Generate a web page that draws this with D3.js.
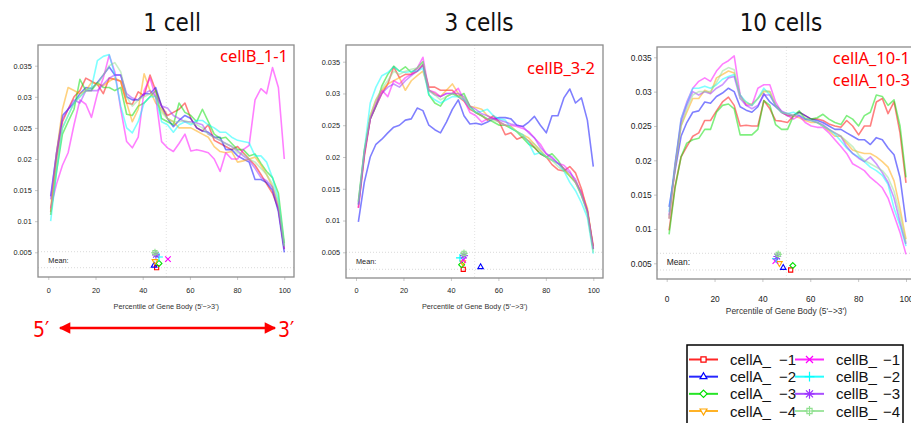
<!DOCTYPE html>
<html>
<head>
<meta charset="utf-8">
<script src="https://cdn.jsdelivr.net/npm/d3@7"></script>
<style>
body { margin: 0; background: #fff; }
svg { display: block; }
.tick text { font-family: "Liberation Sans", Arial, sans-serif; fill: #222; }
</style>
</head>
<body>
<svg id="chart" width="911" height="423"></svg>
<script>
// DATA ------------------------------
// x positions of the coverage points (percentile of gene body)
const percentile = [1,3.5,6,8.4,10.9,13.4,15.9,18.3,20.8,23.3,25.8,28.2,30.7,33.2,35.6,38.1,40.6,43.1,45.5,48,50.5,53,55.4,57.9,60.4,62.9,65.3,67.8,70.3,72.8,75.2,77.7,80.2,82.6,85.1,87.6,90.1,92.5,95,97.5,100];

// coverage values in units of 0.001
// 1 cell
const oneA1 = [11.5,20,26,28,30,31,33,32.5,32,30.5,33,32.8,32.5,29,28.8,30.8,30.2,33.5,31,28.5,27,27.5,28,29,26.5,25,24.5,25.5,23,22.5,22,21.5,22,21,20,19,17.5,16,14.5,12,5.5];
const oneA2 = [14,21,27,28,29,30.5,31.5,31.3,32.3,33.5,34.8,33.5,33.5,30,29.5,29.5,30.5,30.5,31.5,28.5,26.5,25.2,26.2,27,26.5,25,24.5,24.3,23.5,23.5,21.5,21.5,20.5,20,19.5,16.7,16.7,16.2,15,11.5,5];
const oneA3 = [11,18,24,26,28,32.8,31,31,32.3,31.5,31.5,31,31.5,27.2,27,28.5,29,30,31,26.5,26,25.5,29,27.5,27,26,28,26,24,23.3,23.5,22.5,21.5,21.5,20.5,20.8,19.3,18,17,14.5,6.5];
const oneA4 = [12,21,28,31.5,31,30.5,31,32.3,32,31.8,32.5,33,32.5,29,26,28,33.7,31,29,28,26.5,26,25,25,25,24.5,24,23.5,22,21.2,21,21.2,19.5,19.7,20,20.3,19,17.5,15.5,12.5,6];
const oneB1 = [12.1,16,19,21,25.5,29.5,28.8,26.7,30.5,33,36.7,34,28,22.8,21.8,23.5,31,33,30,22.8,21.8,21.2,22.5,24,21.3,21.5,21.3,21,20,18,21,20,20,21.5,22.2,29.5,31.3,30.5,34.7,31.5,20];
const oneB2 = [10,18,25,27,29,30,31,31.5,35.8,36.5,36.8,33.5,28.5,25,24.2,26,29,30,30,26,25.5,24.3,25.5,26,25.5,26.2,26.2,25.5,25,24.3,24.3,23.5,23,22.8,22.6,20.5,20.5,19.5,17,13.5,6];
const oneB3 = [13.5,21,26.5,28,29.5,29,31,31,31,32,33,33.5,33.5,30.5,29.8,29.5,30.5,31,30,28.5,28.2,27,26.5,26,26,25.8,25.5,24,23.5,23,22.5,22,21.3,20.5,19.8,18.5,17,16.5,15.5,12,5.5];
const oneB4 = [11,19,25,27,29,30,31,31.5,32,33.5,35,35.5,34,30,28.5,29.5,30,30.5,30,27.5,26.5,26,26,26.2,25.8,25.5,25,24,23.5,23,22.5,22,21,20.8,20,19.5,18.5,17.5,16,13,6];

// 3 cells
const threeA1 = [12,20,26,28,30,31.5,34.2,32.5,33,33,33.5,34.5,31,31,30.5,30.5,30.5,29.5,28.8,27.5,27,26.5,25.8,26.5,25.5,23.5,23.8,22.8,23.2,22.5,21.5,20.5,20,18.8,18,17.8,18.5,17.5,15,11.5,6];
const threeA2 = [9.8,16,20,22,22.8,23.8,24.7,25,25.8,26,27.7,27.3,25,24.3,23.8,25.5,27.5,29,26.5,25.2,25.3,25.1,25.5,26,26.2,26.2,26,25,24.8,25.5,26.4,25,23.8,26.5,26.5,29.3,30.7,28.5,29.3,25.8,18.5];
const threeA3 = [13,21,26,28,31.2,33,34.3,33.5,34.2,33.3,34,35,29.8,28.5,28,29.5,30,29.5,30,28,27,26.5,26,25.5,25,25,24.5,24,23,22,21.5,20.5,20,20.5,19.5,18,17,16,14,11.5,5.5];
const threeA4 = [12.5,20.5,26.5,29,30.5,31.5,32,32.5,30.5,32,32.8,33.5,30.5,30,29.5,30.5,31.5,30,29,28,27.8,27.5,26.5,26,25.5,25,24.8,24,23.5,23,22,21,20,19.5,19,18.2,17,16.2,14.5,12,5.5];
const threeB1 = [12,20.5,26,28.5,30.5,29.5,32,31.5,32.5,33,34,35.7,30.5,30.2,29.5,30,30,30.8,29,27,26.5,25.5,26,26.2,25.5,25,25,24.8,24.5,24,23,22,20.5,19.8,19,18.7,17.8,16,14.5,11.5,5.5];
const threeB2 = [12.5,21,28.5,31,32.8,33.3,34.2,33.5,33.3,33.5,33.5,34,29.8,29,28.5,29,29.5,29.5,29,27.8,27,27.2,27.5,26.5,26,25.8,24.5,24,23.5,22.2,20.4,20.7,20,19.5,19,17.8,16,14.7,12.8,10.5,4.8];
const threeB3 = [12.5,20.5,26,28,30,31,31.5,31,32,32.8,33.5,34.5,30.5,29.8,29.5,30,30,30,29.5,28,27.5,26.8,26.5,26,25.8,25.5,25.2,25,24.8,23.8,23,21.5,20.5,20,19,18.2,17.5,16.5,14,11.5,5.5];
const threeB4 = [13,21,26.5,29,30.8,32,33.5,33,33.5,33.8,34,35,30.5,29.8,29,29.5,30,29.5,29.5,27.8,27,26.5,26,25.8,25.5,25,24.8,24,23.2,22.5,22,21,20,19.5,18.5,17.8,17,16,14,11,5];

// 10 cells
const tenA1 = [9.8,16.2,20.5,22,23.5,24,25.8,25.8,27.2,28.5,29.2,28,25,25.1,25,25,28.7,27.5,25.8,25.7,25.5,26.5,27,26.5,26,26,25.8,25.3,25,24.8,25.8,25,23.7,25,25,28.5,29,26.8,28.5,24,16.7];
const tenA2 = [13.2,18.5,23.5,25.5,27,27.2,28.5,28.3,29.3,29.8,30.5,30,27.8,27.3,27,27.8,29.7,28.5,27.8,27,26.5,26.5,27,26.5,26,25.8,25.5,25,24.5,24.5,24,23.5,23,23,22.3,23.3,23,21.8,20.8,17.5,11];
const tenA3 = [9.2,16,20.5,22.5,23,23.2,24.5,24.5,27,28,28.2,27.5,23.7,23.7,23.7,24.5,28.7,28,25.2,24.5,24.5,26.5,27.2,26,26,26.2,26.7,26,25.5,25.2,26.5,26,25,26.5,27,29.5,29.3,28,28.8,25,17.5];
const tenA4 = [11.5,19,25,27,29,29,30.2,29.8,32,32.5,33,32.7,29.5,28.2,28.2,29,30,30,28,27,26.5,26.5,26.2,25.8,25.5,25.5,25,24.3,23.5,23.5,22.5,21.5,21.2,21,21,20.5,19.8,19,17,13,8.5];
const tenB1 = [11.5,19,26,28.5,30.5,31.5,32,31.5,33,34,34.5,35.2,29.5,28,28,30.5,31,31,28.5,27,26.5,26,26.5,25.5,25,24.8,24.8,24,23,22,21,19.5,19,18.5,17.5,16.8,16,14.5,12,9.5,6.3];
const tenB2 = [12.5,19.5,26,28.3,30.5,30.5,30.8,30.5,31,31.8,32.2,32.5,29.5,28.5,28,29,30.5,29.5,28,27,26.8,27,26.5,26,25.8,25.5,25,24.5,23.8,22.8,21.8,21,20.5,19.8,19,18.5,17.8,16.5,13,10.5,7.5];
const tenB3 = [12,19.5,25.5,28,30,29.5,30,29.7,30.5,31,32,32.2,29,28,27.5,28,29.5,29.5,28,27.2,26.8,26.5,26.5,26,25.8,25.5,25.2,24.5,24,23.5,22,21,20.3,19.8,20.5,19.5,18.2,16.8,14.5,11,7.8];
const tenB4 = [11.5,19,25,27.5,29.5,30,30,30,31.3,33,33.5,33.2,29,28.5,28,29,30.2,30,28,27,26.8,26.5,26.8,26.2,25.8,25.5,25,24.5,24,23.5,22.8,22,20.8,20,19.5,19,18.5,17.5,15.5,12,8];

// mean percentile of each sample (marker x)
const oneMean = [45.9,44.8,46.9,45.2,50.7,46.9,45.6,45.2];
const threeMean = [45.2,52.5,44.5,45.0,45.2,43.8,45.5,45.5];
const tenMean = [51.8,48.7,52.7,47.1,45.4,45.7,46.2,46.6];

const sampleGroups = ["cellA_","cellA_","cellA_","cellA_","cellB_","cellB_","cellB_","cellB_"];
const sampleSuffix = ["\u22121","\u22122","\u22123","\u22124","\u22121","\u22122","\u22123","\u22124"];
const sampleColors = ["#ff0000","#0000ff","#00e000","#ffa500","#ff00ff","#00ffff","#9b30ff","#90e090"];
const sampleShapes = ["square","triangle","diamond","triangleDown","times","plus","asterisk","squarePlus"];

const panelTitles = ["1 cell","3 cells","10 cells"];
const panelTags = [["cellB_1-1"],["cellB_3-2"],["cellA_10-1","cellA_10-3"]];
const xTicks = [0,20,40,60,80,100];
const yTicks = [5,10,15,20,25,30,35];
const yTickLabels = ["0.005","0.01","0.015","0.02","0.025","0.03","0.035"];
const xTitle = "Percentile of Gene Body (5'\u2212>3')";

const panelSeries = [
    [oneA1,oneA2,oneA3,oneA4,oneB1,oneB2,oneB3,oneB4],
    [threeA1,threeA2,threeA3,threeA4,threeB1,threeB2,threeB3,threeB4],
    [tenA1,tenA2,tenA3,tenA4,tenB1,tenB2,tenB3,tenB4]
];
const panelMeans = [oneMean, threeMean, tenMean];

// LAYOUT ----------------------------
const layout = [
    {left: 38, right: 294, top: 45, bottom: 277, x0: 48.3, x100: 284.3, y5: 252.3, y35: 65.7,
     meanTop: 251.7, meanBot: 267.7, titleX: 172, font: 7.3, xPad: 7.5, yPad: 3.3, axisTitleY: 309, tagX: 288, tagY: 62},
    {left: 346, right: 603, top: 45, bottom: 278, x0: 356, x100: 593.3, y5: 252.3, y35: 61.7,
     meanTop: 252.3, meanBot: 269.3, titleX: 479, font: 7.3, xPad: 6.5, yPad: 3, axisTitleY: 309, tagX: 595, tagY: 74},
    {left: 657, right: 917, top: 47, bottom: 279, x0: 666.7, x100: 906, y5: 263.3, y35: 57.3,
     meanTop: 253.3, meanBot: 270, titleX: 781, font: 8.4, xPad: 14, yPad: 2.3, axisTitleY: 314, tagX: 910, tagY: 64}
];

const svg = d3.select("#chart");

function symbolPath(kind, size) {
    const sym = d3.symbol().size(size);
    switch (kind) {
        case "square": return sym.type(d3.symbolSquare2)();
        case "triangle": return sym.type(d3.symbolTriangle2)();
        case "diamond": return sym.type(d3.symbolDiamond2)();
        case "triangleDown": return sym.type(d3.symbolTriangle2)();
        case "times": return sym.type(d3.symbolTimes)();
        case "plus": return sym.type(d3.symbolPlus)();
        case "asterisk": return sym.type(d3.symbolPlus)() + sym.type(d3.symbolTimes)();
        case "squarePlus": return sym.type(d3.symbolSquare2)() + sym.type(d3.symbolPlus)();
    }
}

// PANELS ----------------------------
layout.forEach((p, pi) => {
    const g = svg.append("g");

    const x = d3.scaleLinear().domain([0, 100]).range([p.x0, p.x100]);
    const y = d3.scaleLinear().domain([5, 35]).range([p.y5, p.y35]);

    // title
    svg.append("text")
        .attr("x", p.titleX).attr("y", 31)
        .attr("text-anchor", "middle")
        .style("font-family", "'DejaVu Sans Condensed', 'DejaVu Sans', sans-serif")
        .style("font-stretch", "condensed")
        .style("font-size", "24px")
        .attr("fill", "#111")
        .text(panelTitles[pi]);

    // axes
    const xAxis = d3.axisBottom(x).tickValues(xTicks).tickSize(3).tickPadding(p.xPad);
    const yAxis = d3.axisLeft(y).tickValues(yTicks).tickSize(3).tickPadding(p.yPad)
        .tickFormat((d, i) => yTickLabels[i]);

    const xg = g.append("g").attr("transform", "translate(0," + p.bottom + ")").call(xAxis);
    const yg = g.append("g").attr("transform", "translate(" + p.left + ",0)").call(yAxis);
    [xg, yg].forEach(a => {
        a.select(".domain").remove();
        a.selectAll(".tick line").attr("stroke", "#c8c8c8");
        a.selectAll(".tick text").style("font-size", p.font + "px");
    });

    g.append("text")
        .attr("x", (p.x0 + p.x100) / 2).attr("y", p.axisTitleY)
        .attr("text-anchor", "middle")
        .style("font-family", "'Liberation Sans', Arial, sans-serif")
        .style("font-size", p.font + "px")
        .attr("fill", "#333")
        .text(xTitle);

    // guide lines for the mean band and the middle
    [p.meanTop, p.meanBot].forEach(v => {
        g.append("line")
            .attr("x1", p.left).attr("x2", p.right)
            .attr("y1", v).attr("y2", v)
            .attr("stroke", "#cfcfcf").attr("stroke-width", 0.8)
            .attr("stroke-dasharray", "1,2");
    });
    g.append("line")
        .attr("x1", x(50)).attr("x2", x(50))
        .attr("y1", p.top).attr("y2", p.bottom)
        .attr("stroke", "#dcdcdc").attr("stroke-width", 0.8)
        .attr("stroke-dasharray", "1,2");

    g.append("text")
        .attr("x", p.x0).attr("y", (p.meanTop + p.meanBot) / 2 + 3)
        .style("font-family", "'Liberation Sans', Arial, sans-serif")
        .style("font-size", p.font + "px")
        .attr("fill", "#222")
        .text("Mean:");

    // coverage lines
    const line = d3.line()
        .x((d, i) => x(percentile[i]))
        .y(d => y(d));

    g.selectAll(".cov")
        .data(panelSeries[pi])
        .enter()
        .append("path")
        .attr("class", "cov")
        .attr("d", line)
        .attr("fill", "none")
        .attr("stroke", (d, i) => sampleColors[i])
        .attr("stroke-opacity", 0.5)
        .attr("stroke-width", 1.6)
        .attr("stroke-linejoin", "round");

    // mean markers
    const step = (p.meanBot - p.meanTop - 1) / 7;
    g.selectAll(".mean")
        .data(panelMeans[pi])
        .enter()
        .append("path")
        .attr("class", "mean")
        .attr("d", (d, i) => symbolPath(sampleShapes[i], 22))
        .attr("transform", (d, i) => "translate(" + x(d) + "," + (p.meanBot - i * step) + ")"
            + (sampleShapes[i] === "triangleDown" ? " rotate(180)" : ""))
        .attr("fill", "none")
        .attr("stroke", (d, i) => sampleColors[i])
        .attr("stroke-width", 1.1);

    // frame
    g.append("rect")
        .attr("x", p.left).attr("y", p.top)
        .attr("width", p.right - p.left).attr("height", p.bottom - p.top)
        .attr("fill", "none")
        .attr("stroke", "#8c8c8c")
        .attr("stroke-width", 1.3);

    // red sample tags
    panelTags[pi].forEach((t, ti) => {
        svg.append("text")
            .attr("x", p.tagX).attr("y", p.tagY + ti * 22)
            .attr("text-anchor", "end")
            .style("font-family", "'Noto Sans', 'Open Sans', sans-serif")
            .style("font-size", "16.5px")
            .attr("fill", "#ff0000")
            .text(t);
    });
});

// 5' -> 3' arrow ---------------------
const defs = svg.append("defs");
defs.append("marker")
    .attr("id", "head")
    .attr("viewBox", "0 0 10 10")
    .attr("refX", 9).attr("refY", 5)
    .attr("markerWidth", 5).attr("markerHeight", 4.4)
    .attr("orient", "auto-start-reverse")
    .append("path")
    .attr("d", "M0,0L10,5L0,10Z")
    .attr("fill", "#ff0000");

svg.append("line")
    .attr("x1", 60).attr("x2", 275)
    .attr("y1", 328).attr("y2", 328)
    .attr("stroke", "#ff0000").attr("stroke-width", 2.6)
    .attr("marker-start", "url(#head)")
    .attr("marker-end", "url(#head)");

[["5\u2032", 33], ["3\u2032", 278]].forEach(([t, px]) => {
    svg.append("text")
        .attr("x", px).attr("y", 337)
        .style("font-family", "'DejaVu Sans Condensed', 'DejaVu Sans', sans-serif")
        .style("font-size", "21px")
        .attr("fill", "#ff0000")
        .text(t);
});

// LEGEND ----------------------------
const legend = svg.append("g");
legend.append("rect")
    .attr("x", 687).attr("y", 345)
    .attr("width", 216).attr("height", 82)
    .attr("fill", "#fff")
    .attr("stroke", "#000")
    .attr("stroke-width", 1.5);

const colX = [689, 795];
const rowY = d3.scaleLinear().domain([0, 3]).range([359.5, 411]);

const items = legend.selectAll(".item")
    .data(sampleGroups)
    .enter()
    .append("g")
    .attr("class", "item")
    .attr("transform", (d, i) => "translate(" + colX[Math.floor(i / 4)] + "," + rowY(i % 4) + ")");

items.append("line")
    .attr("x1", 0).attr("x2", 29)
    .attr("stroke", (d, i) => sampleColors[i])
    .attr("stroke-width", 2)
    .attr("stroke-opacity", 0.85);

items.append("path")
    .attr("d", (d, i) => symbolPath(sampleShapes[i], 34))
    .attr("transform", (d, i) => "translate(14.5,0)" + (sampleShapes[i] === "triangleDown" ? " rotate(180)" : ""))
    .attr("fill", "#fff")
    .attr("stroke", (d, i) => sampleColors[i])
    .attr("stroke-width", 1.2);

items.append("text")
    .attr("x", 41).attr("y", 5.5)
    .style("font-family", "'Liberation Sans', Arial, sans-serif")
    .style("font-size", "15px")
    .attr("fill", "#111")
    .text(d => d);

items.append("text")
    .attr("x", (d, i) => i < 4 ? 90 : 88).attr("y", 5.5)
    .style("font-family", "'Liberation Sans', Arial, sans-serif")
    .style("font-size", "15px")
    .attr("fill", "#111")
    .text((d, i) => sampleSuffix[i]);
</script>
</body>
</html>
